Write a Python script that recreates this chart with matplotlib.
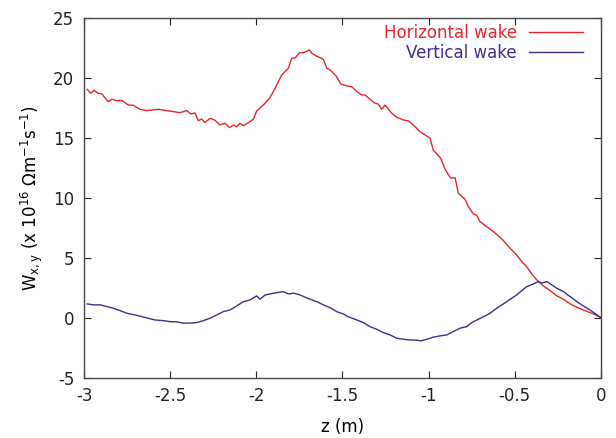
import matplotlib
matplotlib.use("Agg")
import matplotlib.pyplot as plt

plt.rcParams['font.family'] = ['DejaVu Sans']
plt.rcParams['mathtext.fontset'] = 'dejavusans'

# wake potential along the bunch, z in metres
z_h = [-2.981, -2.961, -2.942, -2.919, -2.897, -2.859, -2.839, -2.810, -2.781, -2.743,
       -2.714, -2.675, -2.636, -2.607, -2.569, -2.520, -2.482, -2.443, -2.404, -2.381,
       -2.356, -2.337, -2.317, -2.298, -2.269, -2.240, -2.211, -2.182, -2.157, -2.133,
       -2.114, -2.095, -2.075, -2.046, -2.017, -1.998, -1.959, -1.920, -1.891, -1.853,
       -1.814, -1.795, -1.775, -1.750, -1.727, -1.692, -1.678, -1.649, -1.611, -1.591,
       -1.572, -1.537, -1.510, -1.475, -1.446, -1.417, -1.388, -1.369, -1.340, -1.311,
       -1.292, -1.272, -1.253, -1.214, -1.185, -1.147, -1.118, -1.089, -1.050, -1.021,
       -0.992, -0.973, -0.953, -0.930, -0.905, -0.872, -0.847, -0.828, -0.789, -0.770,
       -0.741, -0.721, -0.702, -0.663, -0.624, -0.595, -0.566, -0.527, -0.489, -0.460,
       -0.431, -0.402, -0.372, -0.334, -0.295, -0.256, -0.218, -0.179, -0.140, -0.102,
       -0.053, 0.0]
w_h = [19.08, 18.75, 19.00, 18.75, 18.70, 18.05, 18.25, 18.13, 18.15, 17.77,
       17.75, 17.41, 17.30, 17.35, 17.41, 17.30, 17.22, 17.13, 17.30, 17.02,
       17.10, 16.46, 16.60, 16.30, 16.66, 16.50, 16.10, 16.25, 15.88, 16.10,
       15.95, 16.24, 16.05, 16.30, 16.58, 17.27, 17.77, 18.41, 19.17, 20.28,
       20.84, 21.67, 21.70, 22.14, 22.14, 22.37, 22.09, 21.85, 21.59, 20.84,
       20.70, 20.20, 19.53, 19.36, 19.30, 18.89, 18.61, 18.61, 18.25, 17.92,
       17.85, 17.41, 17.77, 17.08, 16.75, 16.52, 16.45, 16.10, 15.54, 15.27,
       14.99, 14.00, 13.70, 13.32, 12.40, 11.65, 11.70, 10.40, 9.90, 9.28,
       8.67, 8.55, 8.02, 7.60, 7.19, 6.83, 6.44, 5.80, 5.24, 4.68,
       4.26, 3.65, 3.15, 2.65, 2.26, 1.82, 1.54, 1.15, 0.87, 0.64,
       0.37, 0.0]

z_v = [-2.981, -2.946, -2.907, -2.868, -2.830, -2.791, -2.752, -2.704, -2.665, -2.627,
       -2.588, -2.540, -2.501, -2.462, -2.424, -2.385, -2.346, -2.308, -2.269, -2.230,
       -2.191, -2.153, -2.114, -2.075, -2.037, -1.998, -1.979, -1.949, -1.920, -1.882,
       -1.843, -1.814, -1.785, -1.746, -1.717, -1.688, -1.649, -1.611, -1.572, -1.533,
       -1.495, -1.466, -1.417, -1.379, -1.340, -1.301, -1.263, -1.224, -1.185, -1.147,
       -1.108, -1.069, -1.046, -1.011, -0.973, -0.934, -0.895, -0.857, -0.818, -0.779,
       -0.750, -0.711, -0.673, -0.644, -0.605, -0.566, -0.527, -0.489, -0.460, -0.431,
       -0.392, -0.363, -0.342, -0.314, -0.286, -0.256, -0.218, -0.179, -0.140, -0.102,
       -0.063, 0.0]
w_v = [1.15, 1.07, 1.07, 0.93, 0.79, 0.59, 0.37, 0.23, 0.09, -0.05,
       -0.19, -0.25, -0.33, -0.35, -0.46, -0.45, -0.41, -0.25, -0.05, 0.23,
       0.51, 0.64, 0.98, 1.34, 1.48, 1.82, 1.54, 1.90, 1.98, 2.09,
       2.18, 1.98, 2.05, 1.90, 1.71, 1.54, 1.34, 1.07, 0.83, 0.50,
       0.31, 0.07, -0.19, -0.41, -0.75, -0.97, -1.25, -1.44, -1.72, -1.80,
       -1.86, -1.88, -1.94, -1.80, -1.63, -1.52, -1.44, -1.16, -0.88, -0.75,
       -0.41, -0.13, 0.14, 0.37, 0.79, 1.15, 1.54, 1.90, 2.26, 2.59,
       2.82, 3.01, 2.90, 3.01, 2.74, 2.46, 2.18, 1.76, 1.34, 0.98,
       0.64, 0.0]

x_ticks = [-3, -2.5, -2, -1.5, -1, -0.5, 0]
x_ticklabels = ["-3", "-2.5", "-2", "-1.5", "-1", "-0.5", "0"]
y_ticks = [-5, 0, 5, 10, 15, 20, 25]
y_ticklabels = ["-5", "0", "5", "10", "15", "20", "25"]

red = "#e8232d"
blue = "#3a2f8c"

fig = plt.figure(figsize=(6.16, 4.38), dpi=100)
ax = fig.add_axes([0.1364, 0.1381, 0.8392, 0.8197])

ax.plot(z_h, w_h, color=red, lw=1.0, label="Horizontal wake")
ax.plot(z_v, w_v, color=blue, lw=1.0, label="Vertical wake")

ax.set_xlim(-3, 0)
ax.set_ylim(-5, 25)
ax.set_xticks(x_ticks)
ax.set_xticklabels(x_ticklabels)
ax.set_yticks(y_ticks)
ax.set_yticklabels(y_ticklabels)
ax.tick_params(direction="in", top=True, right=True, length=5, width=0.8,
               labelsize=12, pad=7, colors="#222222")
for s in ax.spines.values():
    s.set_color("#444444")
    s.set_linewidth(1.0)

ax.set_xlabel("z (m)", fontsize=12, labelpad=9)
ax.set_ylabel(r"W$_{\mathregular{x,y}}$ (x 10$^{\mathregular{16}}$ $\mathregular{\Omega}$m$^{\mathregular{-1}}$s$^{\mathregular{-1}}$)",
              fontsize=12, labelpad=6)

ax.legend(loc="upper right", bbox_to_anchor=(1.0, 1.035), frameon=False,
          markerfirst=False, fontsize=12, labelcolor="linecolor",
          handlelength=3.2, handletextpad=0.75, labelspacing=0.12,
          borderaxespad=0.9, borderpad=0.2)

fig.savefig("out.png", dpi=100)
